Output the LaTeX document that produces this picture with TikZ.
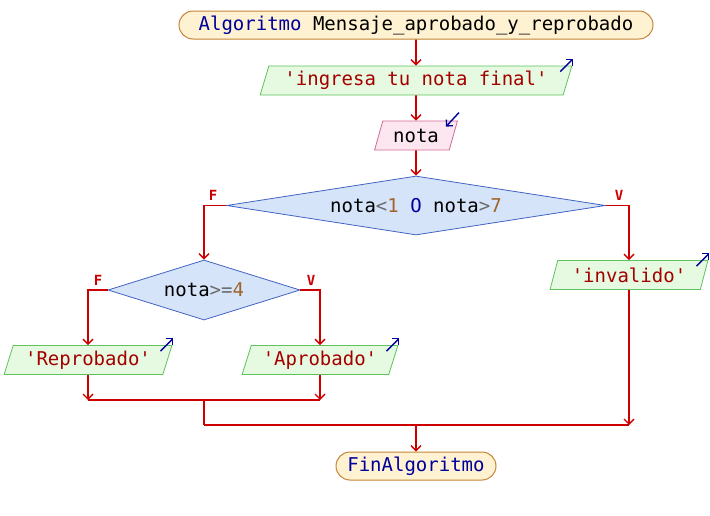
\documentclass[tikz,border=0pt]{standalone}
\usepackage{fontspec}
\setmonofont{DejaVu Sans Mono}
\usetikzlibrary{shapes.geometric,arrows.meta}

\definecolor{lineRed}{HTML}{CC0000}
\definecolor{kwBlue}{HTML}{00009B}
\definecolor{strRed}{HTML}{A50000}
\definecolor{numBrown}{HTML}{A0652A}
\definecolor{opGray}{HTML}{6A6A6A}
\definecolor{termFill}{HTML}{FEF2D2}
\definecolor{termLine}{HTML}{C48534}
\definecolor{outFill}{HTML}{E5FAE0}
\definecolor{outLine}{HTML}{5EC25E}
\definecolor{inFill}{HTML}{FCE6EF}
\definecolor{inLine}{HTML}{D26A98}
\definecolor{condFill}{HTML}{D6E4FA}
\definecolor{condLine}{HTML}{4263C2}

\newcommand{\kw}[1]{\textcolor{kwBlue}{#1}}
\newcommand{\str}[1]{\textcolor{strRed}{#1}}
\newcommand{\num}[1]{\textcolor{numBrown}{#1}}
\newcommand{\op}[1]{\textcolor{opGray}{#1}}

\tikzset{
  terminal/.style={draw=termLine,fill=termFill,line width=1pt,rounded corners=14pt,
    minimum height=28pt,inner sep=0pt},
  outbox/.style={trapezium,trapezium left angle=67.5,trapezium right angle=112.5,
    trapezium stretches=true,draw=outLine,fill=outFill,line width=0.8pt,
    minimum height=29pt,inner sep=0pt},
  inbox/.style={outbox,draw=inLine,fill=inFill},
  cond/.style={diamond,draw=condLine,fill=condFill,line width=0.8pt,inner sep=0pt},
  flow/.style={draw=lineRed,line width=1.8pt,-{Straight Barb[length=5pt,width=10pt,line width=1.4pt]}},
  link/.style={draw=lineRed,line width=1.8pt},
  ioarrow/.style={draw=kwBlue,line width=1.4pt,-{Straight Barb[length=4.5pt,width=9pt,line width=1.3pt]}},
  branch/.style={text=lineRed,font=\fontsize{14}{15}\selectfont\ttfamily\bfseries,inner sep=0pt}
}

\begin{document}
\begin{tikzpicture}[x=1pt,y=-1pt,font=\fontsize{19}{22}\selectfont\ttfamily]
\useasboundingbox (0,0) rectangle (710,515);

% nodes
\node[terminal,minimum width=474pt] (inicio) at (416,25) {\kw{Algoritmo} Mensaje\_aprobado\_y\_reprobado};
\node[outbox,minimum width=312pt] (pedir) at (416,80.5) {\str{'ingresa tu nota final'}};
\node[inbox,minimum width=83pt] (leer) at (416,135.5) {nota};
\node[cond,shape aspect=6.4,minimum width=379pt,minimum height=59pt] (rango) at (416,205.5) {nota\op{<}\num{1} \kw{O} nota\op{>}\num{7}};
\node[cond,shape aspect=3.2,minimum width=192pt,minimum height=60pt] (nota4) at (204,290) {nota\op{>=}\num{4}};
\node[outbox,minimum width=158pt] (invalido) at (629,275) {\str{'invalido'}};
\node[outbox,minimum width=168pt] (reprob) at (88,360) {\str{'Reprobado'}};
\node[outbox,minimum width=156pt] (aprob) at (320,360) {\str{'Aprobado'}};
\node[terminal,minimum width=160pt] (fin) at (416,466) {\kw{FinAlgoritmo}};

\coordinate (unir1) at (204,400);
\coordinate (unir2) at (204,425);

% flow
\draw[flow] (inicio) -- (pedir);
\draw[flow] (pedir) -- (leer);
\draw[flow] (leer) -- (rango);
\draw[flow] (rango.west) -| (nota4.north);
\draw[flow] (rango.east) -| (invalido.north);
\draw[flow] (nota4.west) -| (reprob.north);
\draw[flow] (nota4.east) -| (aprob.north);
\draw[flow] (reprob.south) -- (reprob.south |- unir1);
\draw[flow] (aprob.south) -- (aprob.south |- unir1);
\draw[link] (reprob.south |- unir1) -- (aprob.south |- unir1);
\draw[link] (unir1) -- (unir2);
\draw[flow] (invalido.south) -- (invalido.south |- unir2);
\draw[link] (unir2) -- (invalido.south |- unir2);
\draw[flow] (fin.north |- unir2) -- (fin.north);

% F / V
\node[branch] (rangoF) at (213,195) {F};
\node[branch] (rangoV) at (619,195) {V};
\node[branch] (nota4F) at (98,280) {F};
\node[branch] (nota4V) at (311,280) {V};

% io marks
\draw[ioarrow] ([shift={(-12,6)}]pedir.top right corner) -- ++(13,-13);
\draw[ioarrow] ([shift={(1,-8)}]leer.top right corner) -- ++(-13,14);
\draw[ioarrow] ([shift={(-12,6)}]invalido.top right corner) -- ++(13,-13);
\draw[ioarrow] ([shift={(-12,6)}]reprob.top right corner) -- ++(13,-13);
\draw[ioarrow] ([shift={(-12,6)}]aprob.top right corner) -- ++(13,-13);
\end{tikzpicture}
\end{document}
